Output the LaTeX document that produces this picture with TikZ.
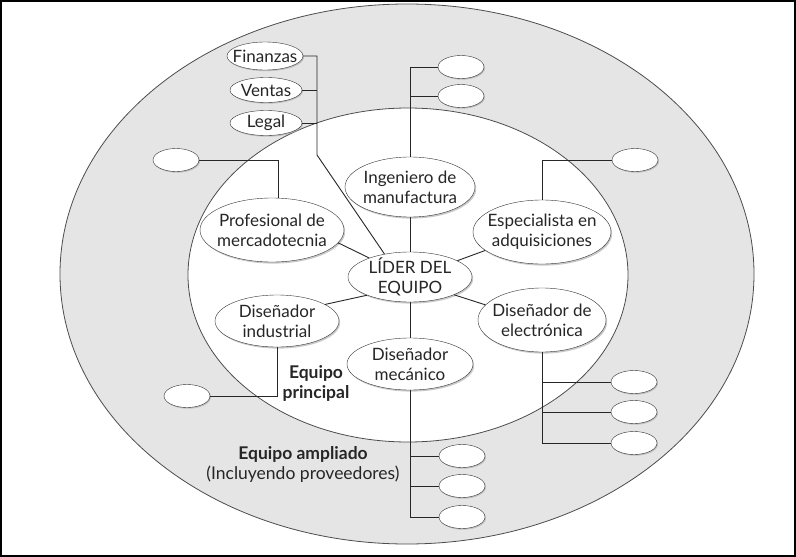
\documentclass[tikz,border=0pt]{standalone}
\usepackage{fontspec}
\setmainfont{Lato}
\usetikzlibrary{shapes.geometric,shadows}

\begin{document}
\begin{tikzpicture}[x=1pt,y=-1pt,
  zone/.style={draw=black!70, line width=0.8pt},
  role/.style={draw=black!80, ellipse, fill=white, inner sep=-14pt, align=center, text=black!85,
    font=\fontsize{17}{20}\selectfont,
    drop shadow={shadow xshift=1.2pt, shadow yshift=-1.6pt, fill=black!35, opacity=0.6}},
  aux/.style={draw=black!80, ellipse, fill=white, inner sep=0pt, minimum width=46pt, minimum height=23pt,
    drop shadow={shadow xshift=1pt, shadow yshift=-1.2pt, fill=black!35, opacity=0.6}},
  ext/.style={aux, inner sep=-8pt, minimum width=72pt, minimum height=25pt, text=black!85,
    font=\fontsize{17}{20}\selectfont},
  link/.style={draw=black!85, line width=0.9pt}
]
\useasboundingbox (0,0) rectangle (796,557);
\fill[white] (0,0) rectangle (796,557);
\draw[line width=2pt] (1,1) rectangle (795,556);
\filldraw[zone, fill=black!10] (407,274) ellipse [x radius=347, y radius=270];
\filldraw[zone, fill=white] (408,275) ellipse [x radius=220, y radius=167];

\node[role, minimum width=124pt, minimum height=50pt] (lider) at (410,277) {LÍDER DEL\\EQUIPO};
\node[role, minimum width=130pt, minimum height=60pt] (ing) at (410,187) {Ingeniero de\\manufactura};
\node[role, minimum width=144pt, minimum height=64pt] (prof) at (272,230) {Profesional de\\mercadotecnia};
\node[role, minimum width=138pt, minimum height=64pt] (esp) at (542,232) {Especialista en\\adquisiciones};
\node[role, minimum width=124pt, minimum height=52pt] (ind) at (277,321) {Diseñador\\industrial};
\node[role, minimum width=126pt, minimum height=52pt] (mec) at (410,364) {Diseñador\\mecánico};
\node[role, minimum width=128pt, minimum height=64pt] (ele) at (542,320) {Diseñador de\\electrónica};

\node[ext, minimum width=76pt, minimum height=28pt] (fin) at (265,56) {Finanzas};
\node[ext] (ven) at (266,90) {Ventas};
\node[ext] (leg) at (266,123) {Legal};

\node[aux] (mfg1) at (461,67) {};
\node[aux] (mfg2) at (461,96) {};
\node[aux] (mkt1) at (176,160) {};
\node[aux] (adq1) at (635,160) {};
\node[aux] (ind1) at (187,396) {};
\foreach \i/\y in {1/456,2/486,3/517}
  \node[aux] (mec\i) at (462,\y) {};
\foreach \i/\y in {1/382,2/412,3/443}
  \node[aux] (ele\i) at (634,\y) {};

\node[font=\fontsize{17.5}{20}\selectfont\bfseries, text=black!85, align=center] (core) at (316,383) {Equipo\\principal};
\node[font=\fontsize{17.5}{20}\selectfont, text=black!85, align=center] (wide) at (303,464) {\textbf{Equipo ampliado}\\(Incluyendo proveedores)};

\coordinate (fbend) at (317,155);
\draw[link] (fin.east) -| (fbend) -- (lider.138);
\draw[link] (ven.east) -- (ven.east -| fbend);
\draw[link] (leg.east) -- (leg.east -| fbend);

\draw[link] (ing) -- (lider);
\draw[link] (ing.north) |- (mfg1.west);
\draw[link] (ing.north |- mfg2.west) -- (mfg2.west);

\draw[link] (prof.78) |- (mkt1.east);
\draw[link] (prof.-11) -- (lider.155);
\draw[link] (esp.north) |- (adq1.west);
\draw[link] (lider.19) -- (esp.198);
\draw[link] (lider.203) -- (ind.19);
\draw[link] (lider.-22) -- (ele.165);
\draw[link] (lider) -- (mec);

\draw[link] (ind.south) |- (ind1.east);
\draw[link] (mec.south) |- (mec3.west);
\draw[link] (mec.south |- mec1.west) -- (mec1.west);
\draw[link] (mec.south |- mec2.west) -- (mec2.west);
\draw[link] (ele.south) |- (ele3.west);
\draw[link] (ele.south |- ele1.west) -- (ele1.west);
\draw[link] (ele.south |- ele2.west) -- (ele2.west);
\end{tikzpicture}
\end{document}
